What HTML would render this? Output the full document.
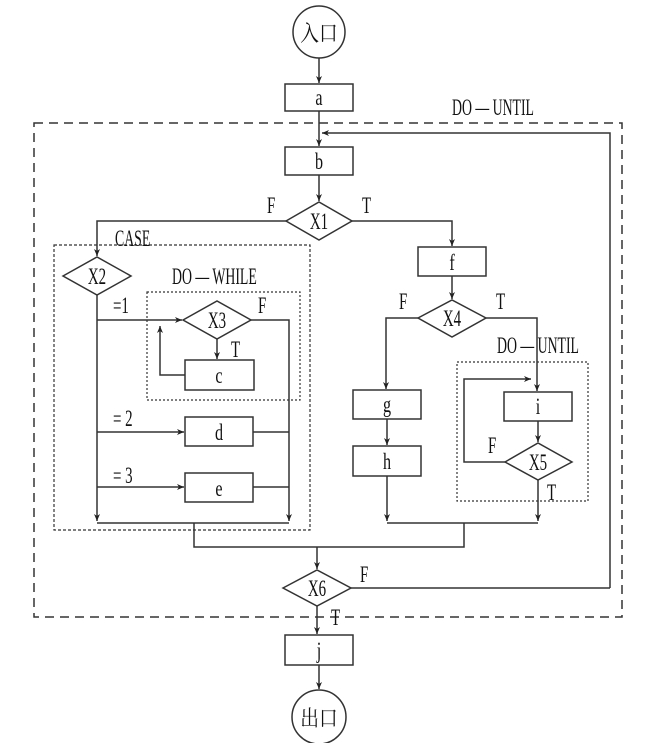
<!DOCTYPE html>
<html><head><meta charset="utf-8"><style>
html,body{margin:0;padding:0;background:#fff;}
svg{display:block}
text{font-family:"Liberation Serif","Noto Serif CJK SC",serif;fill:#111;}
</style></head><body>
<svg width="658" height="743" viewBox="0 0 658 743" xmlns="http://www.w3.org/2000/svg">
<defs>
<marker id="ar" markerWidth="8" markerHeight="8" refX="7" refY="4" orient="auto" markerUnits="userSpaceOnUse">
<path d="M0,1 L7,4 L0,7 L2,4 Z" fill="#222"/>
</marker>
</defs>
<g fill="none" stroke="#333" stroke-width="1.5">
<rect x="34" y="123" width="588" height="494" stroke-dasharray="9,6"/>
<rect x="54" y="245" width="256" height="285" stroke-dasharray="3,2" stroke-width="1.2"/>
<rect x="147" y="292" width="153" height="108" stroke-dasharray="2,2" stroke-width="1.2"/>
<rect x="457" y="362" width="131" height="139" stroke-dasharray="2,2" stroke-width="1.2"/>

<circle cx="319" cy="32" r="26"/>
<rect x="285" y="84" width="68" height="27"/>
<rect x="285" y="147" width="68" height="28"/>
<polygon points="286,221 319,202 352,221 319,240"/>
<polygon points="63,276 97,257 131,276 97,295"/>
<polygon points="183,320 217,301 251,320 217,339"/>
<rect x="185" y="360" width="69" height="30"/>
<rect x="185" y="417" width="68" height="29"/>
<rect x="185" y="473" width="68" height="29"/>
<rect x="418" y="247" width="68" height="29"/>
<polygon points="418,318 452,300 486,318 452,337"/>
<rect x="353" y="390" width="68" height="29"/>
<rect x="353" y="446" width="68" height="30"/>
<rect x="504" y="392" width="68" height="29"/>
<polygon points="505,462 538,443 572,462 538,480"/>
<polygon points="283,588 317,570 351,588 317,606"/>
<rect x="285" y="635" width="68" height="30"/>
<circle cx="319" cy="717" r="27"/>

<path d="M319,58 V83" marker-end="url(#ar)"/>
<path d="M319,111 V146" marker-end="url(#ar)"/>
<path d="M610,588 V133 H322" marker-end="url(#ar)"/>
<path d="M319,175 V201" marker-end="url(#ar)"/>
<path d="M286,221 H97 V256" marker-end="url(#ar)"/>
<path d="M97,295 V521" marker-end="url(#ar)"/>
<path d="M97,320 H182" marker-end="url(#ar)"/>
<path d="M251,320 H289 V521" marker-end="url(#ar)"/>
<path d="M217,339 V359" marker-end="url(#ar)"/>
<path d="M185,375 H160 V326" marker-end="url(#ar)"/>
<path d="M97,432 H184" marker-end="url(#ar)"/>
<path d="M253,432 H289"/>
<path d="M97,487 H184" marker-end="url(#ar)"/>
<path d="M253,487 H289"/>
<path d="M97,523 H289"/>
<path d="M194,523 V547 H464 V523"/>
<path d="M317,547 V569" marker-end="url(#ar)"/>
<path d="M351,588 H610"/>
<path d="M317,606 V634" marker-end="url(#ar)"/>
<path d="M319,665 V689" marker-end="url(#ar)"/>
<path d="M352,221 H452 V246" marker-end="url(#ar)"/>
<path d="M452,276 V299" marker-end="url(#ar)"/>
<path d="M418,318 H386 V389" marker-end="url(#ar)"/>
<path d="M387,419 V445" marker-end="url(#ar)"/>
<path d="M387,476 V521" marker-end="url(#ar)"/>
<path d="M486,318 H537 V391" marker-end="url(#ar)"/>
<path d="M538,421 V442" marker-end="url(#ar)"/>
<path d="M505,462 H464 V379 H531" marker-end="url(#ar)"/>
<path d="M538,480 V521" marker-end="url(#ar)"/>
<path d="M387,523 H538"/>
</g>
<g font-size="23">
<text transform="translate(319,41) scale(0.85,1)" text-anchor="middle" font-size="22">入口</text>
<text transform="translate(319,726) scale(0.85,1)" text-anchor="middle" font-size="22">出口</text>
<text transform="translate(319,105) scale(0.7,1)" text-anchor="middle">a</text>
<text transform="translate(319,169) scale(0.7,1)" text-anchor="middle">b</text>
<text transform="translate(319,229) scale(0.65,1)" text-anchor="middle">X1</text>
<text transform="translate(97,284) scale(0.65,1)" text-anchor="middle">X2</text>
<text transform="translate(217,328) scale(0.65,1)" text-anchor="middle">X3</text>
<text transform="translate(452,326) scale(0.65,1)" text-anchor="middle">X4</text>
<text transform="translate(538,470) scale(0.65,1)" text-anchor="middle">X5</text>
<text transform="translate(317,596) scale(0.65,1)" text-anchor="middle">X6</text>
<text transform="translate(219,383) scale(0.7,1)" text-anchor="middle">c</text>
<text transform="translate(219,440) scale(0.7,1)" text-anchor="middle">d</text>
<text transform="translate(219,496) scale(0.7,1)" text-anchor="middle">e</text>
<text transform="translate(452,270) scale(0.7,1)" text-anchor="middle">f</text>
<text transform="translate(387,412) scale(0.7,1)" text-anchor="middle">g</text>
<text transform="translate(387,469) scale(0.7,1)" text-anchor="middle">h</text>
<text transform="translate(538,414) scale(0.7,1)" text-anchor="middle">i</text>
<text transform="translate(319,658) scale(0.7,1)" text-anchor="middle">j</text>
<text transform="translate(267,213) scale(0.65,1)">F</text>
<text transform="translate(362,213) scale(0.65,1)">T</text>
<text transform="translate(399,309) scale(0.65,1)">F</text>
<text transform="translate(496,309) scale(0.65,1)">T</text>
<text transform="translate(258,313) scale(0.65,1)">F</text>
<text transform="translate(231,357) scale(0.65,1)">T</text>
<text transform="translate(488,453) scale(0.65,1)">F</text>
<text transform="translate(547,500) scale(0.65,1)">T</text>
<text transform="translate(360,582) scale(0.65,1)">F</text>
<text transform="translate(331,625) scale(0.65,1)">T</text>
<text transform="translate(113,313) scale(0.65,1)">=1</text>
<text transform="translate(113,426) scale(0.65,1)">= 2</text>
<text transform="translate(113,483) scale(0.65,1)">= 3</text>
<text transform="translate(115,246) scale(0.6,1)">CASE</text>
<text transform="translate(172,284) scale(0.6,1)">DO — WHILE</text>
<text transform="translate(452,115) scale(0.6,1)">DO — UNTIL</text>
<text transform="translate(497,353) scale(0.6,1)">DO — UNTIL</text>
</g>
</svg>
</body></html>
